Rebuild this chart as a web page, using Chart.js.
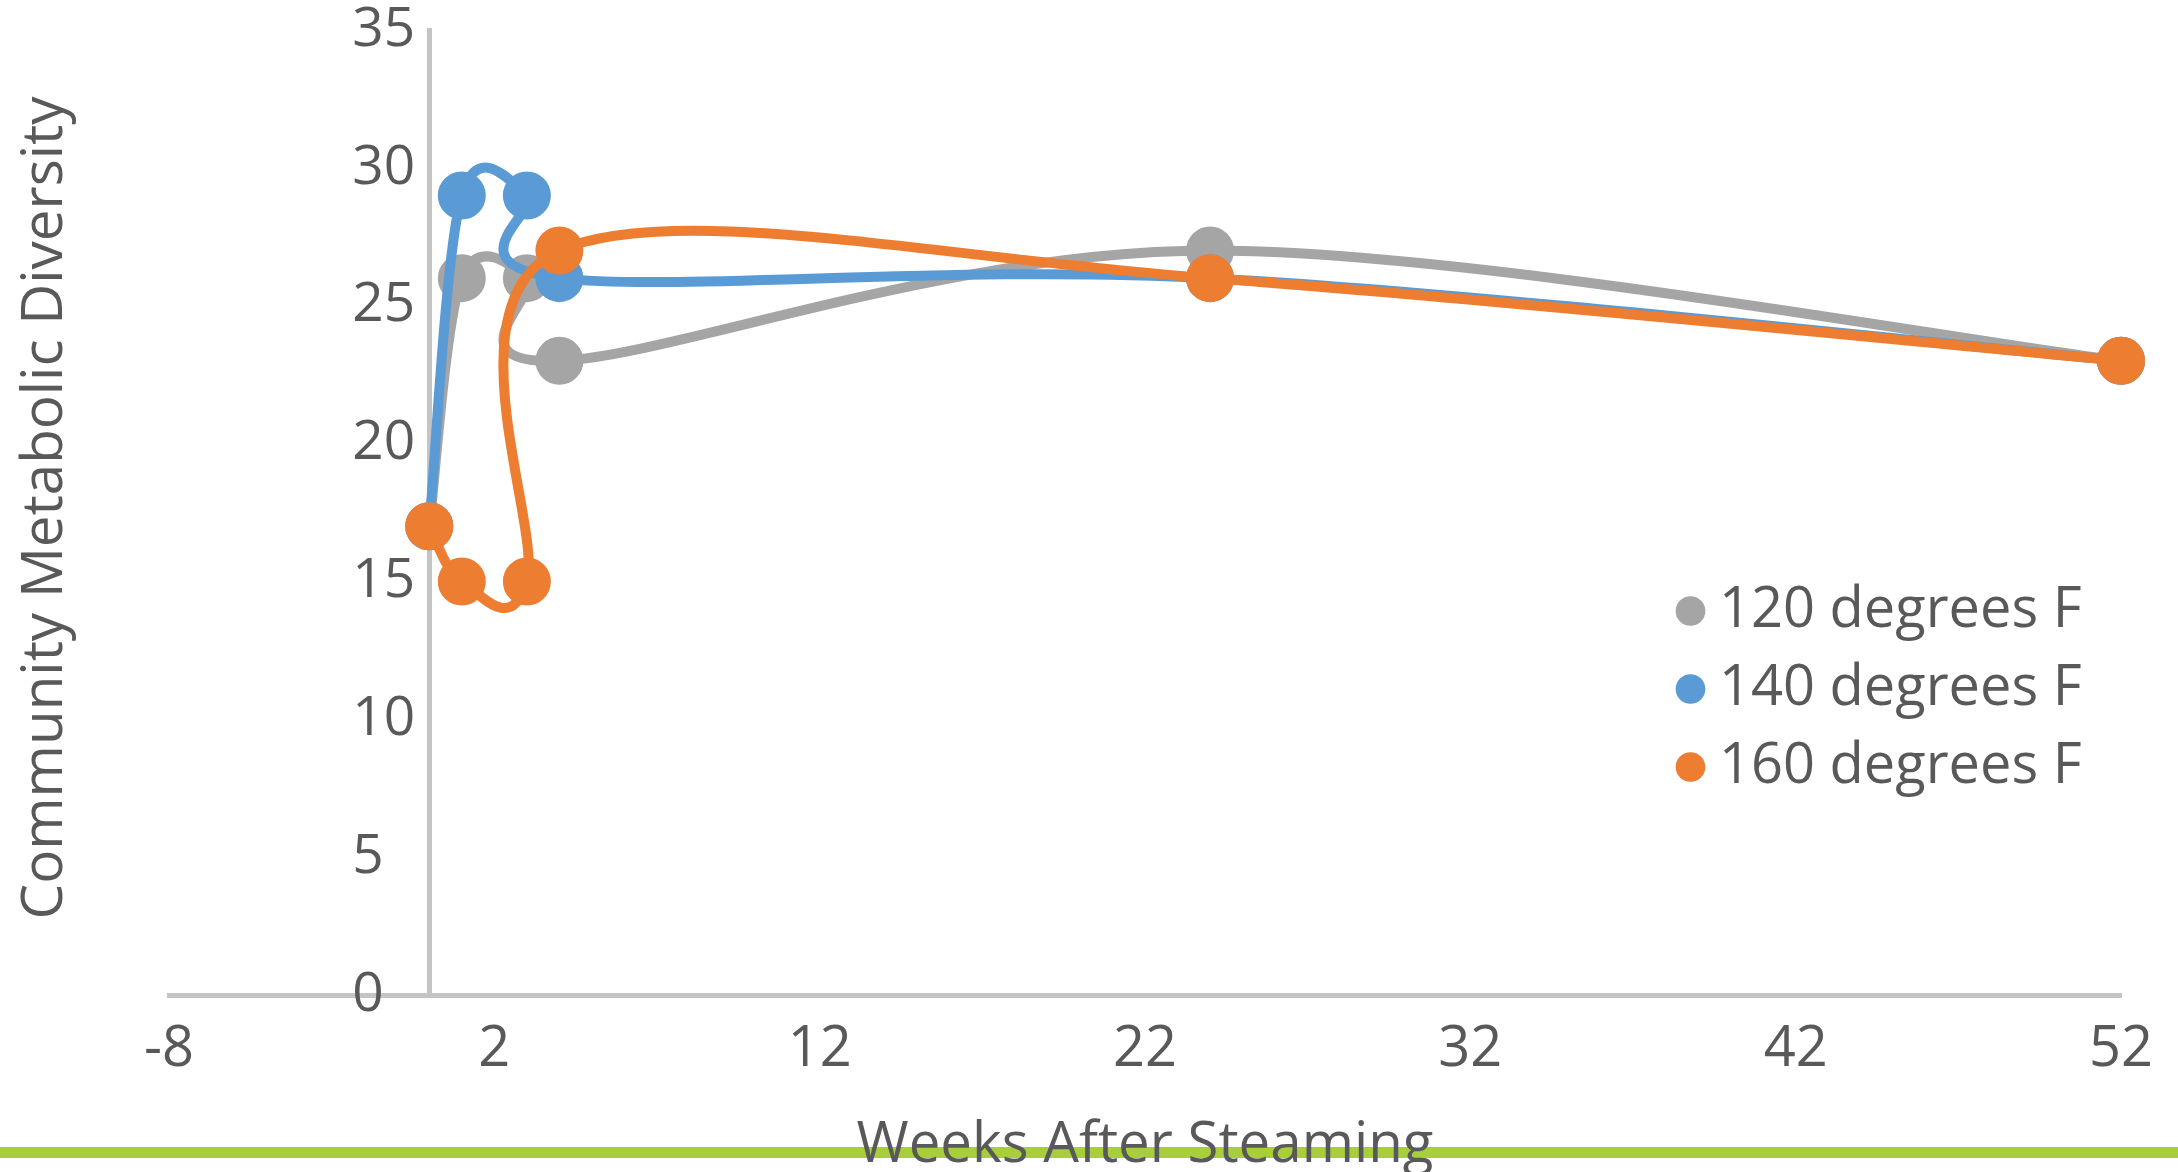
<!DOCTYPE html>
<html>
<head>
<meta charset="utf-8">
<script src="https://cdn.jsdelivr.net/npm/chart.js@4/dist/chart.umd.min.js"></script>
<style>
  html, body { margin: 0; padding: 0; background: #ffffff; }
  canvas { display: block; }
</style>
</head>
<body>
<canvas id="chart" width="2178" height="1172"></canvas>
<script>
// Sampling weeks and community metabolic diversity per steaming temperature
const seriesNames = ['120 degrees F', '140 degrees F', '160 degrees F'];
const weeks = [0, 1, 3, 4, 24, 52];
const diversity120 = [17, 26, 26, 23, 27, 23];
const diversity140 = [17, 29, 29, 26, 26, 23];
const diversity160 = [17, 15, 15, 27, 26, 23];
const xTickValues = [-8, 2, 12, 22, 32, 42, 52];
const yTickValues = [0, 5, 10, 15, 20, 25, 30, 35];
const xTitle = 'Weeks After Steaming';
const yTitle = 'Community Metabolic Diversity';

const seriesColors = ['#A5A5A5', '#5B9BD5', '#ED7D31'];
const textColor = '#595959';
const axisColor = '#C4C4C4';
const FONT = '"Open Sans", "Liberation Sans", sans-serif';

function toPoints(values) {
  return weeks.map((w, i) => ({ x: w, y: values[i] }));
}

const seriesValues = [diversity120, diversity140, diversity160];
const datasets = seriesValues.map((vals, i) => ({
  label: seriesNames[i],
  data: toPoints(vals),
  borderColor: seriesColors[i],
  backgroundColor: seriesColors[i],
  borderWidth: 10,
  borderCapStyle: 'round',
  borderJoinStyle: 'round',
  tension: 0.3,
  pointRadius: 23,
  pointBorderWidth: 2,
  pointBackgroundColor: seriesColors[i],
  pointBorderColor: seriesColors[i],
  pointHoverRadius: 23,
  fill: false,
  clip: false,
  order: seriesValues.length - i   // later series drawn on top
}));

// Office-style smoothed lines: Catmull-Rom control points at 1/6 of the neighbour span
const officeSmooth = {
  id: 'officeSmooth',
  beforeDatasetDraw(chart, args) {
    const meta = args.meta;
    const line = meta.dataset;
    if (!line) return;
    line.updateControlPoints(chart.chartArea, meta.iScale.axis);
    const pts = meta.data;
    const n = pts.length;
    for (let i = 0; i < n; i++) {
      const p = pts[i];
      const prev = pts[Math.max(i - 1, 0)];
      const next = pts[Math.min(i + 1, n - 1)];
      const dx = (next.x - prev.x) / 6;
      const dy = (next.y - prev.y) / 6;
      p.cp1x = p.x - dx; p.cp1y = p.y - dy;
      p.cp2x = p.x + dx; p.cp2y = p.y + dy;
    }
  }
};

// Put the value axis at week 0, give the week labels room, and set the legend inside the plot
const placement = {
  id: 'placement',
  afterLayout(chart) {
    const xs = chart.scales.x;
    const x0 = xs.getPixelForValue(0);
    const y = chart.scales.y;
    y.right = x0;
    y.left = x0 - 77;
    xs.bottom = xs.top + 110;
    const lg = chart.legend;
    if (lg) {
      const w = lg.width;
      lg.left = 1668;
      lg.top = 561;
      lg.right = lg.left + w;
      lg.bottom = lg.top + 400;
    }
  }
};

function drawFittedText(ctx, text, cx, cy, rotation, length, font) {
  ctx.save();
  ctx.font = font;
  const w = ctx.measureText(text).width;
  ctx.translate(cx, cy);
  ctx.rotate(rotation);
  ctx.scale(length / w, 1);
  ctx.textAlign = 'center';
  ctx.textBaseline = 'alphabetic';
  ctx.fillStyle = textColor;
  ctx.fillText(text, 0, 0);
  ctx.restore();
}

// Axis titles and the green page rule underneath
const decorations = {
  id: 'decorations',
  afterDraw(chart) {
    const ctx = chart.ctx;
    ctx.save();
    ctx.fillStyle = '#A8CF3A';
    ctx.fillRect(0, 1147, chart.width, 11);
    ctx.restore();
    drawFittedText(ctx, xTitle, 1145, 1162, 0, 577, '56px ' + FONT);
    drawFittedText(ctx, yTitle, 62, 508, -Math.PI / 2, 823, '57px ' + FONT);
  }
};

new Chart(document.getElementById('chart'), {
  type: 'line',
  data: { datasets },
  plugins: [officeSmooth, placement, decorations],
  options: {
    responsive: false,
    animation: false,
    events: [],
    layout: { padding: { left: 169, right: 57, top: 30, bottom: 177 } },
    scales: {
      x: {
        type: 'linear',
        position: 'bottom',
        min: -8,
        max: 52,
        afterBuildTicks(scale) { scale.ticks = xTickValues.map(v => ({ value: v })); },
        afterFit(scale) { scale.height = 0; },
        grid: { display: false, drawTicks: false },
        border: { display: true, color: axisColor, width: 5 },
        ticks: {
          color: textColor,
          font: { family: FONT, size: 56 },
          padding: 21,
          maxRotation: 0,
          autoSkip: false
        },
        title: { display: false }
      },
      y: {
        type: 'linear',
        position: 'left',
        min: 0,
        max: 35,
        afterBuildTicks(scale) { scale.ticks = yTickValues.map(v => ({ value: v })); },
        afterFit(scale) { scale.width = 0; },
        grid: { display: false, drawTicks: false },
        border: { display: true, color: axisColor, width: 5 },
        ticks: {
          color: textColor,
          font: { family: FONT, size: 55, lineHeight: 1 },
          crossAlign: 'far',
          padding: 0,
          autoSkip: false
        },
        title: { display: false }
      }
    },
    plugins: {
      tooltip: { enabled: false },
      title: { display: false },
      legend: {
        display: true,
        position: 'chartArea',
        align: 'start',
        labels: {
          usePointStyle: true,
          pointStyle: 'circle',
          boxWidth: 1,
          boxHeight: 21,
          padding: 22,
          color: textColor,
          font: { family: FONT, size: 56 },
          sort: (a, b) => a.datasetIndex - b.datasetIndex,
          generateLabels(chart) {
            const items = Chart.defaults.plugins.legend.labels.generateLabels(chart);
            items.forEach(it => { it.lineWidth = 0; });
            return items;
          }
        }
      }
    }
  }
});
</script>
</body>
</html>
